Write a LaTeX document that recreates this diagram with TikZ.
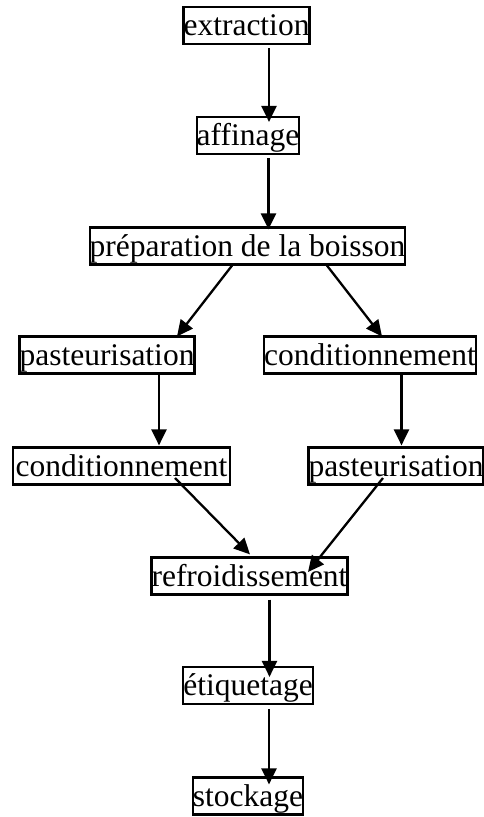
\documentclass[tikz,border=0pt]{standalone}
\usepackage{fontspec}
\setmainfont{Liberation Serif}
\usetikzlibrary{arrows.meta,calc}

\tikzset{
  stepbox/.style={draw, line width=2.2pt, inner xsep=0pt, inner ysep=2.25pt,
    text height=26.5pt, text depth=6pt, anchor=center,
    font=\fontsize{31.5}{31.5}\selectfont},
  flow/.style={line width=2.3pt, -{Triangle[length=16pt,width=15pt]}}
}

\begin{document}
\begin{tikzpicture}[x=1pt,y=-1pt]
\useasboundingbox (0,0) rectangle (483,817);

% process steps
\node[stepbox, minimum width=125pt] (extraction) at (246.5,25.5) {extraction};
\node[stepbox, minimum width=102pt] (affinage) at (248,135.5) {affinage};
\node[stepbox, minimum width=315pt] (preparation) at (247.5,246) {préparation de la boisson};
\node[stepbox, minimum width=174pt] (pastL) at (107,355) {pasteurisation};
\node[stepbox, minimum width=210pt] (condR) at (370,355) {conditionnement};
\node[stepbox, minimum width=217pt] (condL) at (121.5,466) {conditionnement\hspace{8pt}};
\node[stepbox, minimum width=172pt] (pastR) at (396,466) {pasteurisation};
\node[stepbox, minimum width=195pt] (refroid) at (249.5,576) {refroidissement};
\node[stepbox, minimum width=128pt] (etiq) at (248,685.5) {étiquetage};
\node[stepbox, minimum width=110pt] (stock) at (248,796) {stockage};

% connectors
\draw[flow] ($(extraction.south)+(22.5,3)$) -- ($(affinage.north)+(21,6)$);
\draw[flow] ($(affinage.south)+(20.5,3)$) -- ($(preparation.north)+(21,3)$);
\draw[flow] ($(preparation.south)+(-15.5,0)$) -- ($(pastL.north)+(70,1)$);
\draw[flow] ($(preparation.south)+(79.5,0)$) -- ($(condR.north)+(12,1)$);
\draw[flow] ($(pastL.south)+(52,0)$) -- ($(condL.north)+(37.5,-1)$);
\draw[flow] ($(condR.south)+(31.5,0)$) -- ($(pastR.north)+(5.5,-1)$);
\draw[flow] ($(condL.center)+(53.5,12)$) -- ($(refroid.north)+(0.5,-2)$);
\draw[flow] ($(pastR.center)+(-13,12)$) -- ($(refroid.center)+(58.5,-4)$);
\draw[flow] ($(refroid.south)+(20,4)$) -- ($(etiq.north)+(21.5,11)$);
\draw[flow] ($(etiq.south)+(21,4)$) -- ($(stock.north)+(21,8)$);
\end{tikzpicture}
\end{document}
